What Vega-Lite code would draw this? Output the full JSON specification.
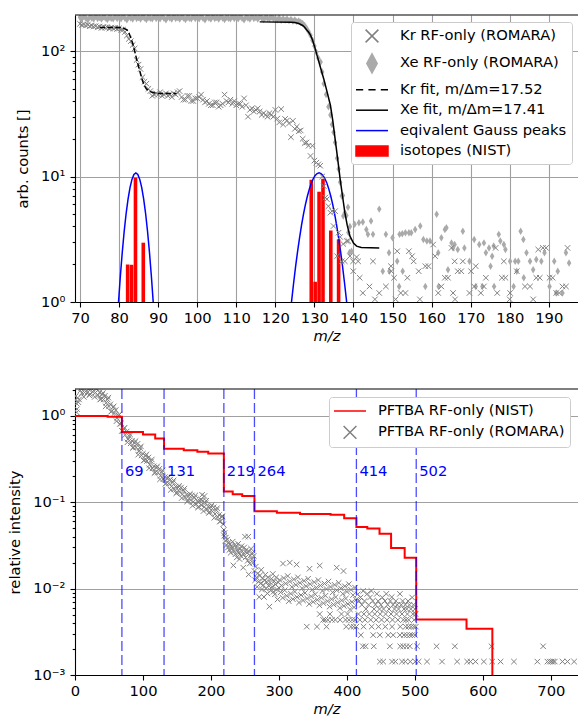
{
"$schema":"https://vega.github.io/schema/vega-lite/v6.json",
"padding":{"left":7,"top":14,"right":0,"bottom":3},
"spacing":37,
"config":{
"font":"DejaVu Sans",
"view":{"stroke":null},
"axis":{"labelFont":"DejaVu Sans","labelFontSize":14.7,"labelColor":"#000","titleFont":"DejaVu Sans","titleFontSize":14.7,"titleFontWeight":"normal","titleColor":"#000","domainColor":"#000","domainWidth":1.1,"tickColor":"#000","tickWidth":1.1,"tickSize":5,"labelPadding":3,"gridColor":"#a0a0a0","gridWidth":1.1,"labelOverlap":false,"labelFlush":false},
"axisY":{"labelPadding":5,"minExtent":42,"maxExtent":42},
"legend":{"labelFont":"DejaVu Sans","labelFontSize":14.7,"labelColor":"#000","labelLimit":400,"symbolStrokeWidth":1.5,"symbolSize":256,"padding":5,"strokeColor":"#cccccc","fillColor":"white","cornerRadius":3,"rowPadding":4.4,"labelOffset":26,"symbolOpacity":1,"symbolLimit":0}
},
"datasets":{
"iso":[{"m":82.2,"v":1.99},{"m":83.2,"v":1.98},{"m":84.2,"v":9.8},{"m":86.2,"v":2.97},{"m":129.2,"v":9.43},{"m":130.2,"v":1.45},{"m":131.2,"v":7.57},{"m":132.2,"v":9.6},{"m":134.2,"v":3.71},{"m":136.2,"v":3.16}],
"gauss":[
{"p":"Kr","m":79.3,"v":0.53},{"p":"Kr","m":79.8,"v":0.94},{"p":"Kr","m":80.3,"v":1.56},{"p":"Kr","m":80.8,"v":2.45},{"p":"Kr","m":81.3,"v":3.63},{"p":"Kr","m":81.8,"v":5.05},{"p":"Kr","m":82.3,"v":6.61},{"p":"Kr","m":82.8,"v":8.17},{"p":"Kr","m":83.3,"v":9.49},{"p":"Kr","m":83.8,"v":10.38},{"p":"Kr","m":84.3,"v":10.7},{"p":"Kr","m":84.8,"v":10.38},{"p":"Kr","m":85.3,"v":9.49},{"p":"Kr","m":85.8,"v":8.17},{"p":"Kr","m":86.3,"v":6.61},{"p":"Kr","m":86.8,"v":5.05},{"p":"Kr","m":87.3,"v":3.63},{"p":"Kr","m":87.8,"v":2.45},{"p":"Kr","m":88.3,"v":1.56},{"p":"Kr","m":88.8,"v":0.94},{"p":"Kr","m":89.3,"v":0.53},
{"p":"Xe","m":123.7,"v":0.73},{"p":"Xe","m":124.2,"v":1.04},{"p":"Xe","m":124.7,"v":1.43},{"p":"Xe","m":125.2,"v":1.93},{"p":"Xe","m":125.7,"v":2.53},{"p":"Xe","m":126.2,"v":3.25},{"p":"Xe","m":126.7,"v":4.08},{"p":"Xe","m":127.2,"v":4.99},{"p":"Xe","m":127.7,"v":5.97},{"p":"Xe","m":128.2,"v":6.97},{"p":"Xe","m":128.7,"v":7.94},{"p":"Xe","m":129.2,"v":8.84},{"p":"Xe","m":129.7,"v":9.61},{"p":"Xe","m":130.2,"v":10.2},{"p":"Xe","m":130.7,"v":10.57},{"p":"Xe","m":131.2,"v":10.7},{"p":"Xe","m":131.7,"v":10.57},{"p":"Xe","m":132.2,"v":10.2},{"p":"Xe","m":132.7,"v":9.61},{"p":"Xe","m":133.2,"v":8.84},{"p":"Xe","m":133.7,"v":7.94},{"p":"Xe","m":134.2,"v":6.97},{"p":"Xe","m":134.7,"v":5.97},{"p":"Xe","m":135.2,"v":4.99},{"p":"Xe","m":135.7,"v":4.08},{"p":"Xe","m":136.2,"v":3.25},{"p":"Xe","m":136.7,"v":2.53},{"p":"Xe","m":137.2,"v":1.93},{"p":"Xe","m":137.7,"v":1.43},{"p":"Xe","m":138.2,"v":1.04},{"p":"Xe","m":138.7,"v":0.73}],
"krfit":[{"m":75,"v":154},{"m":80,"v":154},{"m":81,"v":153},{"m":82,"v":148},{"m":82.5,"v":140},{"m":83,"v":128},{"m":83.5,"v":115},{"m":84,"v":100},{"m":84.5,"v":86},{"m":85,"v":75},{"m":85.5,"v":66},{"m":86,"v":58},{"m":86.5,"v":53},{"m":87,"v":50},{"m":88,"v":47.5},{"m":89,"v":46.5},{"m":90,"v":46},{"m":94.7,"v":46}],
"xefit":[{"m":116,"v":171},{"m":124,"v":170},{"m":125,"v":169},{"m":126,"v":166},{"m":127,"v":160},{"m":127.5,"v":155},{"m":128,"v":148},{"m":128.5,"v":142},{"m":129,"v":134},{"m":129.5,"v":123},{"m":130,"v":110},{"m":130.7,"v":92},{"m":131.5,"v":75},{"m":132.4,"v":60},{"m":133.2,"v":48},{"m":134.1,"v":37},{"m":134.7,"v":28},{"m":135.3,"v":20},{"m":136,"v":13.5},{"m":136.6,"v":9.5},{"m":137.2,"v":7},{"m":137.8,"v":5.15},{"m":138.4,"v":4.1},{"m":139.1,"v":3.35},{"m":140,"v":2.95},{"m":140.8,"v":2.79},{"m":142,"v":2.72},{"m":146.6,"v":2.7}],
"kr":[{"m":70,"v":165},{"m":70.5,"v":162},{"m":71,"v":163},{"m":71.5,"v":160},{"m":72,"v":162},{"m":72.5,"v":158},{"m":73,"v":160},{"m":73.5,"v":157},{"m":74,"v":158},{"m":74.5,"v":155},{"m":75,"v":157},{"m":75.5,"v":153},{"m":76,"v":156},{"m":76.5,"v":154},{"m":77,"v":155},{"m":77.5,"v":151},{"m":78,"v":154},{"m":78.5,"v":152},{"m":79,"v":153},{"m":79.5,"v":150},{"m":80,"v":152},{"m":80.5,"v":148},{"m":81,"v":148},{"m":81.5,"v":142},{"m":82,"v":133},{"m":82.5,"v":125},{"m":83,"v":120},{"m":83.5,"v":112},{"m":84,"v":105},{"m":84.5,"v":85},{"m":85,"v":78},{"m":85.5,"v":72},{"m":86,"v":62},{"m":86.5,"v":57},{"m":87,"v":55},{"m":87.5,"v":50},{"m":88,"v":48},{"m":88.5,"v":44},{"m":89,"v":45},{"m":89.5,"v":46},{"m":90,"v":45},{"m":90.5,"v":47},{"m":91,"v":44},{"m":91.5,"v":45},{"m":92,"v":46},{"m":92.5,"v":44},{"m":93,"v":45},{"m":93.5,"v":43},{"m":94,"v":46},{"m":94.5,"v":45},{"m":95,"v":47},{"m":95.5,"v":48},{"m":96,"v":43},{"m":96.5,"v":41},{"m":97,"v":41},{"m":97.5,"v":44},{"m":98,"v":44},{"m":98.5,"v":40},{"m":99,"v":40},{"m":99.5,"v":42},{"m":100,"v":42},{"m":100.5,"v":43},{"m":101,"v":45},{"m":101.5,"v":41},{"m":102,"v":39},{"m":102.5,"v":40},{"m":103,"v":38},{"m":103.5,"v":37},{"m":104,"v":37},{"m":104.5,"v":39},{"m":105,"v":39},{"m":105.5,"v":36},{"m":106,"v":37},{"m":106.5,"v":38},{"m":107,"v":45},{"m":107.5,"v":40},{"m":108,"v":39},{"m":108.5,"v":41},{"m":109,"v":38},{"m":109.5,"v":40},{"m":110,"v":37},{"m":110.5,"v":38},{"m":111,"v":38},{"m":111.5,"v":36},{"m":112,"v":42},{"m":112.5,"v":37},{"m":113,"v":30},{"m":113.5,"v":34},{"m":114,"v":35},{"m":114.5,"v":33},{"m":115,"v":34},{"m":115.5,"v":35},{"m":116,"v":33},{"m":116.5,"v":31},{"m":117,"v":32},{"m":117.5,"v":31},{"m":118,"v":30},{"m":118.5,"v":32},{"m":119,"v":31},{"m":119.5,"v":30},{"m":120,"v":34},{"m":120.5,"v":29},{"m":121,"v":27},{"m":121.5,"v":34.5},{"m":122,"v":26},{"m":122.5,"v":28.8},{"m":123,"v":28},{"m":123.5,"v":26.5},{"m":124,"v":20.6},{"m":124.5,"v":27.8},{"m":125,"v":24},{"m":125.5,"v":25},{"m":126,"v":23},{"m":126.5,"v":23.3},{"m":127,"v":20},{"m":127.5,"v":18.5},{"m":128,"v":18.7},{"m":128.5,"v":17.6},{"m":129,"v":14.6},{"m":129.5,"v":17.6},{"m":130,"v":13.4},{"m":130.5,"v":12.9},{"m":131,"v":12.5},{"m":131.5,"v":12.2},{"m":132,"v":10},{"m":132.4,"v":8.4},{"m":132.8,"v":6.8},{"m":133.2,"v":6.6},{"m":133.6,"v":5.8},{"m":134.1,"v":5.15},{"m":134.5,"v":5.3},{"m":134.9,"v":4.03},{"m":135.3,"v":5.3},{"m":135.8,"v":2.32},{"m":136.2,"v":3.57},{"m":136.6,"v":3.3},{"m":137,"v":2.11},{"m":137.4,"v":2.9},{"m":137.8,"v":2.11},{"m":138.3,"v":3.06},{"m":138.7,"v":3.06},{"m":139.1,"v":2.32},{"m":139.9,"v":2.11},{"m":139.95,"v":1.76},{"m":140.8,"v":2.28},{"m":141.2,"v":2.11},{"m":141.6,"v":1.56},{"m":142.4,"v":1.18},{"m":144.1,"v":1.33},{"m":145,"v":2.11},{"m":145.5,"v":1.05},{"m":146.6,"v":1.18},{"m":148.3,"v":1.33},{"m":149.6,"v":1.93},{"m":149.7,"v":1.76},{"m":150.4,"v":1.56},{"m":150.8,"v":1.05},{"m":151.2,"v":2.54},{"m":152.1,"v":1.18},{"m":153.3,"v":1.18},{"m":153.8,"v":1.56},{"m":154.2,"v":2.54},{"m":155,"v":2.32},{"m":155.4,"v":2.11},{"m":156.7,"v":1.76},{"m":157,"v":1.05},{"m":158.4,"v":1.93},{"m":159.2,"v":1.93},{"m":160.4,"v":2.87},{"m":160.9,"v":2.32},{"m":161.7,"v":1.18},{"m":162.5,"v":1.33},{"m":163.4,"v":1.56},{"m":164.2,"v":1.56},{"m":165.1,"v":2.7},{"m":165.5,"v":1.18},{"m":165.9,"v":2.11},{"m":166,"v":1.05},{"m":166.7,"v":1.76},{"m":167.6,"v":1.76},{"m":168,"v":2.11},{"m":169.7,"v":1.18},{"m":170.1,"v":1.76},{"m":170.9,"v":1.33},{"m":171.3,"v":1.93},{"m":172.6,"v":1.18},{"m":173.4,"v":1.33},{"m":173.9,"v":1.56},{"m":176.4,"v":2.7},{"m":176.8,"v":1.18},{"m":178,"v":1.56},{"m":178.5,"v":2.11},{"m":178.9,"v":1.56},{"m":180,"v":1.05},{"m":180.1,"v":1.18},{"m":181.8,"v":1.76},{"m":183.9,"v":1.33},{"m":185.2,"v":1.33},{"m":186,"v":1.05},{"m":186.8,"v":1.56},{"m":187.3,"v":2.62},{"m":187.7,"v":1.56},{"m":188.5,"v":2.7},{"m":189.3,"v":2.7},{"m":190.2,"v":1.56},{"m":191,"v":1.56},{"m":191.9,"v":1.18},{"m":192.7,"v":1.18},{"m":193.5,"v":1.33},{"m":194.4,"v":1.33},{"m":194.8,"v":2.7}],
"xe":[{"m":70,"v":186},{"m":70.5,"v":181},{"m":71,"v":189},{"m":71.5,"v":183},{"m":72,"v":178},{"m":72.5,"v":187},{"m":73,"v":184},{"m":73.5,"v":180},{"m":74,"v":190},{"m":74.5,"v":182},{"m":75,"v":185},{"m":75.5,"v":180},{"m":76,"v":188},{"m":76.5,"v":184},{"m":77,"v":179},{"m":77.5,"v":186},{"m":78,"v":183},{"m":78.5,"v":181},{"m":79,"v":189},{"m":79.5,"v":182},{"m":80,"v":186},{"m":80.5,"v":181},{"m":81,"v":189},{"m":81.5,"v":183},{"m":82,"v":178},{"m":82.5,"v":187},{"m":83,"v":184},{"m":83.5,"v":180},{"m":84,"v":190},{"m":84.5,"v":182},{"m":85,"v":185},{"m":85.5,"v":180},{"m":86,"v":188},{"m":86.5,"v":184},{"m":87,"v":179},{"m":87.5,"v":186},{"m":88,"v":183},{"m":88.5,"v":181},{"m":89,"v":189},{"m":89.5,"v":182},{"m":90,"v":186},{"m":90.5,"v":181},{"m":91,"v":189},{"m":91.5,"v":183},{"m":92,"v":178},{"m":92.5,"v":187},{"m":93,"v":184},{"m":93.5,"v":180},{"m":94,"v":190},{"m":94.5,"v":182},{"m":95,"v":185},{"m":95.5,"v":180},{"m":96,"v":188},{"m":96.5,"v":184},{"m":97,"v":179},{"m":97.5,"v":186},{"m":98,"v":183},{"m":98.5,"v":181},{"m":99,"v":189},{"m":99.5,"v":182},{"m":100,"v":186},{"m":100.5,"v":181},{"m":101,"v":189},{"m":101.5,"v":183},{"m":102,"v":178},{"m":102.5,"v":187},{"m":103,"v":184},{"m":103.5,"v":180},{"m":104,"v":190},{"m":104.5,"v":182},{"m":105,"v":185},{"m":105.5,"v":180},{"m":106,"v":188},{"m":106.5,"v":184},{"m":107,"v":179},{"m":107.5,"v":186},{"m":108,"v":183},{"m":108.5,"v":181},{"m":109,"v":189},{"m":109.5,"v":182},{"m":110,"v":186},{"m":110.5,"v":181},{"m":111,"v":189},{"m":111.5,"v":183},{"m":112,"v":178},{"m":112.5,"v":187},{"m":113,"v":184},{"m":113.5,"v":180},{"m":114,"v":190},{"m":114.5,"v":182},{"m":115,"v":185},{"m":115.5,"v":180},{"m":116,"v":188},{"m":116.5,"v":184},{"m":117,"v":179},{"m":117.5,"v":186},{"m":118,"v":183},{"m":118.5,"v":181},{"m":119,"v":187},{"m":119.5,"v":182},{"m":120,"v":182},{"m":120.5,"v":178},{"m":121,"v":184},{"m":121.5,"v":176},{"m":122,"v":181},{"m":122.5,"v":177},{"m":123,"v":180},{"m":123.5,"v":175},{"m":124,"v":179},{"m":124.5,"v":174},{"m":125,"v":177},{"m":125.5,"v":172},{"m":126,"v":174},{"m":126.5,"v":170},{"m":127,"v":166},{"m":127.5,"v":160},{"m":128,"v":152},{"m":128.5,"v":143},{"m":129,"v":134},{"m":129.5,"v":122},{"m":130,"v":110},{"m":130.5,"v":98},{"m":131,"v":88},{"m":131.6,"v":82},{"m":132,"v":68},{"m":132.4,"v":55},{"m":133,"v":45},{"m":133.6,"v":36},{"m":134.1,"v":31},{"m":134.5,"v":26},{"m":134.9,"v":22.5},{"m":135.3,"v":18.7},{"m":135.8,"v":14},{"m":136.2,"v":11.5},{"m":136.6,"v":9},{"m":137,"v":7},{"m":137.3,"v":7.06},{"m":137.4,"v":4.85},{"m":137.8,"v":5.15},{"m":138.2,"v":4.9},{"m":138.6,"v":5.69},{"m":138.7,"v":3.58},{"m":139,"v":2.48},{"m":139.1,"v":4.0},{"m":139.5,"v":2.54},{"m":140.3,"v":4.16},{"m":141.4,"v":4.29},{"m":142.4,"v":4.35},{"m":143.3,"v":3.79},{"m":143.7,"v":3.46},{"m":144.5,"v":4.42},{"m":145,"v":3.46},{"m":146.6,"v":5.5},{"m":147.5,"v":1.76},{"m":148.3,"v":3.46},{"m":149.1,"v":2.47},{"m":149.2,"v":1.76},{"m":150,"v":3.25},{"m":151.2,"v":2.11},{"m":151.7,"v":1.33},{"m":151.8,"v":3.46},{"m":152.5,"v":3.5},{"m":152.6,"v":1.76},{"m":153.3,"v":3.56},{"m":154.2,"v":3.56},{"m":154.8,"v":3.56},{"m":155.8,"v":3.79},{"m":157.1,"v":4.03},{"m":157.9,"v":3.15},{"m":158.4,"v":1.33},{"m":158.8,"v":3.06},{"m":159.6,"v":3.06},{"m":161.3,"v":5.0},{"m":161.7,"v":2.47},{"m":161.8,"v":1.33},{"m":162.5,"v":3.25},{"m":163.4,"v":3.79},{"m":163.8,"v":3.9},{"m":164.2,"v":1.81},{"m":165.1,"v":2.96},{"m":165.5,"v":2.7},{"m":165.9,"v":2.87},{"m":166.7,"v":2.62},{"m":168,"v":3.67},{"m":168.4,"v":2.7},{"m":169.7,"v":2.11},{"m":170.9,"v":3.15},{"m":171.3,"v":1.33},{"m":172.2,"v":2.87},{"m":173,"v":1.33},{"m":173.4,"v":2.96},{"m":173.9,"v":2.47},{"m":174.7,"v":2.7},{"m":175.1,"v":1.93},{"m":175.5,"v":2.32},{"m":175.9,"v":2.79},{"m":176,"v":1.33},{"m":177.2,"v":3.46},{"m":177.6,"v":3.06},{"m":178.5,"v":2.87},{"m":178.9,"v":2.62},{"m":180.1,"v":2.11},{"m":181,"v":1.33},{"m":181.4,"v":2.11},{"m":181.8,"v":1.76},{"m":182.2,"v":2.11},{"m":182.8,"v":3.67},{"m":183.5,"v":3.15},{"m":183.6,"v":1.56},{"m":184.3,"v":2.47},{"m":185.2,"v":2.11},{"m":186,"v":1.81},{"m":186.8,"v":2.18},{"m":188.1,"v":2.11},{"m":188.9,"v":2.47},{"m":190.2,"v":1.33},{"m":191.4,"v":2.11},{"m":191.9,"v":1.18},{"m":192.3,"v":1.76},{"m":193.5,"v":1.18},{"m":194.4,"v":2.47},{"m":195.2,"v":2.05}],
"legTop":[{"s":"Kr RF-only (ROMARA)"},{"s":"Xe RF-only (ROMARA)"},{"s":"Kr fit, m/Δm=17.52"},{"s":"Xe fit, m/Δm=17.41"},{"s":"eqivalent Gauss peaks"},{"s":"isotopes (NIST)"}],
"legBot":[{"s":"PFTBA RF-only (NIST)"},{"s":"PFTBA RF-only (ROMARA)"}],
"nist":[{"m":0,"v":1.0},{"m":48,"v":0.975},{"m":69,"v":0.65},{"m":100,"v":0.61},{"m":118,"v":0.548},{"m":131,"v":0.417},{"m":160,"v":0.4},{"m":180,"v":0.385},{"m":196,"v":0.367},{"m":219,"v":0.133},{"m":232,"v":0.124},{"m":246,"v":0.118},{"m":264,"v":0.0785},{"m":297,"v":0.0757},{"m":331,"v":0.0734},{"m":376,"v":0.0715},{"m":396,"v":0.0655},{"m":414,"v":0.0517},{"m":430,"v":0.0496},{"m":448,"v":0.0432},{"m":465,"v":0.0295},{"m":485,"v":0.0228},{"m":502,"v":0.0044},{"m":576,"v":0.00343},{"m":614,"v":0.0005}],
"lines":[{"m":69},{"m":131},{"m":219},{"m":264},{"m":414},{"m":502}],
"pftba":[{"m":0,"v":1.53},{"m":2,"v":1.4},{"m":4,"v":1.62},{"m":6,"v":1.55},{"m":8,"v":1.97},{"m":10,"v":1.84},{"m":12,"v":2.16},{"m":14,"v":1.87},{"m":16,"v":2.14},{"m":18,"v":1.85},{"m":20,"v":2.04},{"m":22,"v":1.79},{"m":24,"v":2.09},{"m":26,"v":1.9},{"m":28,"v":2.17},{"m":30,"v":1.86},{"m":32,"v":2.07},{"m":34,"v":1.74},{"m":36,"v":1.86},{"m":38,"v":1.57},{"m":40,"v":1.77},{"m":42,"v":1.55},{"m":44,"v":1.71},{"m":46,"v":1.42},{"m":48,"v":1.55},{"m":50,"v":1.29},{"m":52,"v":1.36},{"m":54,"v":1.13},{"m":56,"v":1.26},{"m":58,"v":1.08},{"m":60,"v":1.17},{"m":62,"v":0.946},{"m":64,"v":1.01},{"m":66,"v":0.807},{"m":68,"v":0.822},{"m":70,"v":0.667},{"m":72,"v":0.714},{"m":74,"v":0.603},{"m":76,"v":0.659},{"m":78,"v":0.541},{"m":80,"v":0.583},{"m":82,"v":0.482},{"m":84,"v":0.511},{"m":86,"v":0.434},{"m":88,"v":0.491},{"m":90,"v":0.433},{"m":92,"v":0.475},{"m":94,"v":0.391},{"m":96,"v":0.424},{"m":98,"v":0.349},{"m":100,"v":0.366},{"m":102,"v":0.308},{"m":104,"v":0.345},{"m":106,"v":0.301},{"m":108,"v":0.33},{"m":110,"v":0.272},{"m":112,"v":0.297},{"m":114,"v":0.247},{"m":116,"v":0.261},{"m":118,"v":0.222},{"m":120,"v":0.251},{"m":122,"v":0.221},{"m":124,"v":0.244},{"m":126,"v":0.203},{"m":128,"v":0.222},{"m":130,"v":0.185},{"m":132,"v":0.195},{"m":134,"v":0.166},{"m":136,"v":0.188},{"m":138,"v":0.165},{"m":140,"v":0.183},{"m":142,"v":0.153},{"m":144,"v":0.17},{"m":146,"v":0.142},{"m":148,"v":0.152},{"m":150,"v":0.13},{"m":152,"v":0.149},{"m":154,"v":0.132},{"m":156,"v":0.148},{"m":158,"v":0.124},{"m":160,"v":0.136},{"m":162,"v":0.114},{"m":164,"v":0.122},{"m":166,"v":0.105},{"m":168,"v":0.12},{"m":170,"v":0.106},{"m":172,"v":0.12},{"m":174,"v":0.101},{"m":176,"v":0.113},{"m":178,"v":0.0957},{"m":180,"v":0.103},{"m":182,"v":0.0891},{"m":184,"v":0.103},{"m":186,"v":0.0923},{"m":188,"v":0.104},{"m":190,"v":0.0879},{"m":192,"v":0.0979},{"m":194,"v":0.0828},{"m":196,"v":0.0891},{"m":198,"v":0.0771},{"m":200,"v":0.0883},{"m":202,"v":0.0783},{"m":204,"v":0.0875},{"m":206,"v":0.0733},{"m":208,"v":0.0811},{"m":210,"v":0.0675},{"m":212,"v":0.0713},{"m":214,"v":0.0605},{"m":216,"v":0.0687},{"m":218,"v":0.0556},
{"m":1,"v":1.69},{"m":5,"v":1.44},{"m":9,"v":2.11},{"m":13,"v":1.66},{"m":17,"v":2.3},{"m":21,"v":1.73},{"m":25,"v":2.21},{"m":29,"v":1.66},{"m":33,"v":2.19},{"m":37,"v":1.55},{"m":41,"v":1.84},{"m":45,"v":1.29},{"m":49,"v":1.63},{"m":53,"v":1.12},{"m":57,"v":1.29},{"m":61,"v":0.869},{"m":65,"v":1.04},{"m":69,"v":0.671},{"m":73,"v":0.728},{"m":77,"v":0.494},{"m":81,"v":0.612},{"m":85,"v":0.427},{"m":89,"v":0.511},{"m":93,"v":0.356},{"m":97,"v":0.444},{"m":101,"v":0.304},{"m":105,"v":0.358},{"m":109,"v":0.248},{"m":113,"v":0.313},{"m":117,"v":0.218},{"m":121,"v":0.261},{"m":125,"v":0.184},{"m":129,"v":0.234},{"m":133,"v":0.163},{"m":137,"v":0.195},{"m":141,"v":0.139},{"m":145,"v":0.179},{"m":149,"v":0.127},{"m":153,"v":0.155},{"m":157,"v":0.112},{"m":161,"v":0.144},{"m":165,"v":0.102},{"m":169,"v":0.125},{"m":173,"v":0.0912},{"m":177,"v":0.12},{"m":181,"v":0.0869},{"m":185,"v":0.108},{"m":189,"v":0.0791},{"m":193,"v":0.104},{"m":197,"v":0.0752},{"m":201,"v":0.0923},{"m":205,"v":0.0662},{"m":209,"v":0.0854},{"m":213,"v":0.0596},{"m":217,"v":0.0686},{"m":187,"v":0.122},{"m":190.5,"v":0.118},{"m":3,"v":1.2},{"m":2.5,"v":1.1},
{"m":219,"v":0.048},{"m":219.5,"v":0.041},{"m":220,"v":0.044},{"m":221,"v":0.036},{"m":222,"v":0.039},{"m":223,"v":0.032},{"m":224,"v":0.037},{"m":225,"v":0.03},{"m":226,"v":0.034},{"m":227,"v":0.028},{"m":228,"v":0.033},{"m":229,"v":0.026},{"m":230,"v":0.031},{"m":231,"v":0.029},{"m":232,"v":0.035},{"m":233,"v":0.0186},{"m":234,"v":0.027},{"m":235,"v":0.032},{"m":236,"v":0.025},{"m":237,"v":0.03},{"m":238,"v":0.023},{"m":239,"v":0.028},{"m":240,"v":0.033},{"m":241,"v":0.026},{"m":242,"v":0.022},{"m":243,"v":0.029},{"m":244,"v":0.024},{"m":245,"v":0.031},{"m":246,"v":0.027},{"m":247.5,"v":0.0175},{"m":248,"v":0.025},{"m":249,"v":0.03},{"m":250,"v":0.04},{"m":251,"v":0.023},{"m":252,"v":0.028},{"m":253,"v":0.026},{"m":254,"v":0.021},{"m":255,"v":0.04},{"m":255.5,"v":0.0146},{"m":256,"v":0.027},{"m":257,"v":0.0195},{"m":258,"v":0.024},{"m":259,"v":0.029},{"m":260,"v":0.022},{"m":261,"v":0.026},{"m":262,"v":0.02},{"m":263,"v":0.024},
{"m":264,"v":0.016},{"m":265,"v":0.0125},{"m":266,"v":0.018},{"m":267,"v":0.0135},{"m":268,"v":0.0105},{"m":269,"v":0.015},{"m":270,"v":0.012},{"m":271,"v":0.008},{"m":272,"v":0.0142},{"m":273,"v":0.0115},{"m":274,"v":0.0165},{"m":275,"v":0.0098},{"m":276,"v":0.013},{"m":277,"v":0.011},{"m":278,"v":0.008},{"m":279,"v":0.0125},{"m":280,"v":0.0145},{"m":281,"v":0.01},{"m":282,"v":0.012},{"m":283,"v":0.0088},{"m":284,"v":0.0135},{"m":285,"v":0.0108},{"m":286,"v":0.0062},{"m":287,"v":0.0118},{"m":288,"v":0.0095},{"m":289,"v":0.013},{"m":290,"v":0.0105},{"m":291,"v":0.0148},{"m":292,"v":0.0092},{"m":293,"v":0.0122},{"m":294,"v":0.0086},{"m":295,"v":0.0112},{"m":296,"v":0.0135},{"m":297,"v":0.0098},{"m":298,"v":0.0075},{"m":299,"v":0.0118},{"m":300,"v":0.0102},
{"m":301,"v":0.0126},{"m":302.5,"v":0.00906},{"m":304,"v":0.01086},{"m":305.5,"v":0.00783},{"m":307,"v":0.01327},{"m":308.5,"v":0.00957},{"m":310,"v":0.01146},{"m":311.5,"v":0.00828},{"m":313,"v":0.014},{"m":314.5,"v":0.00716},{"m":316,"v":0.0121},{"m":317.5,"v":0.00875},{"m":319,"v":0.01047},{"m":320.5,"v":0.00755},{"m":322,"v":0.0128},{"m":323.5,"v":0.00923},{"m":325,"v":0.01107},{"m":326.5,"v":0.00798},{"m":328,"v":0.01352},{"m":329.5,"v":0.0069},{"m":331,"v":0.01167},{"m":332.5,"v":0.00843},{"m":334,"v":0.01009},{"m":335.5,"v":0.0073},{"m":337,"v":0.01233},{"m":338.5,"v":0.00891},{"m":340,"v":0.01067},{"m":341.5,"v":0.00769},{"m":343,"v":0.01303},{"m":344.5,"v":0.00665},{"m":346,"v":0.01127},{"m":347.5,"v":0.00813},{"m":349,"v":0.00973},{"m":350.5,"v":0.00703},{"m":352,"v":0.01189},{"m":353.5,"v":0.00859},{"m":355,"v":0.01028},{"m":356.5,"v":0.00743},{"m":358,"v":0.01256},{"m":359.5,"v":0.00641},{"m":361,"v":0.01086},{"m":362.5,"v":0.00783},{"m":364,"v":0.0094},{"m":365.5,"v":0.00678},{"m":367,"v":0.01146},{"m":368.5,"v":0.00828},{"m":370,"v":0.00991},{"m":371.5,"v":0.00716},{"m":373,"v":0.0121},{"m":374.5,"v":0.00619},{"m":376,"v":0.01047},{"m":377.5,"v":0.00755},{"m":379,"v":0.00906},{"m":380.5,"v":0.00653},{"m":382,"v":0.01107},{"m":383.5,"v":0.00798},{"m":385,"v":0.00957},{"m":386.5,"v":0.0069},{"m":388,"v":0.01167},{"m":389.5,"v":0.00597},{"m":391,"v":0.01009},{"m":392.5,"v":0.0073},{"m":394,"v":0.00873},{"m":395.5,"v":0.0063},{"m":397,"v":0.01067},{"m":398.5,"v":0.00769},{"m":400,"v":0.00923},{"m":401.5,"v":0.00665},{"m":403,"v":0.01127},{"m":404.5,"v":0.00575},{"m":406,"v":0.00973},{"m":407.5,"v":0.00703},{"m":409,"v":0.00841},{"m":410.5,"v":0.00608},{"m":412,"v":0.01028},{"m":413.5,"v":0.00743},
{"m":306,"v":0.0195},{"m":316,"v":0.02},{"m":326,"v":0.019},{"m":345,"v":0.017},{"m":360,"v":0.0185},{"m":385,"v":0.0175},{"m":395,"v":0.016},
{"m":360,"v":0.00508},{"m":375,"v":0.00508},{"m":392,"v":0.00508},{"m":401,"v":0.00508},{"m":365,"v":0.00435},{"m":368,"v":0.00435},{"m":372,"v":0.00435},{"m":378,"v":0.00435},{"m":383,"v":0.00435},{"m":390,"v":0.00435},{"m":398,"v":0.00435},{"m":403,"v":0.00435},{"m":408,"v":0.00435},{"m":412,"v":0.00435},{"m":341,"v":0.00363},{"m":356,"v":0.00363},{"m":370,"v":0.00363},{"m":399,"v":0.00363},{"m":406,"v":0.00363},{"m":410,"v":0.00363},{"m":414,"v":0.00363},
{"m":416,"v":0.0086},{"m":418,"v":0.0072},{"m":420,"v":0.0079},{"m":422,"v":0.0065},{"m":424,"v":0.0094},{"m":426,"v":0.0072},{"m":428,"v":0.0058},{"m":430,"v":0.0087},{"m":432,"v":0.0065},{"m":434,"v":0.0079},{"m":436,"v":0.0094},{"m":438,"v":0.0072},{"m":440,"v":0.0058},{"m":442,"v":0.0065},{"m":444,"v":0.0087},{"m":446,"v":0.0072},{"m":448,"v":0.0058},{"m":450,"v":0.0065},{"m":452,"v":0.0079},{"m":454,"v":0.0058},{"m":456,"v":0.0072},{"m":458,"v":0.0087},{"m":460,"v":0.0065},{"m":462,"v":0.0058},{"m":464,"v":0.0072},{"m":466,"v":0.008},{"m":468,"v":0.0065},{"m":470,"v":0.0058},{"m":472,"v":0.0072},{"m":474,"v":0.0065},{"m":476,"v":0.0058},{"m":478,"v":0.0087},{"m":480,"v":0.0065},{"m":482,"v":0.0072},{"m":484,"v":0.0058},{"m":486,"v":0.0065},{"m":488,"v":0.0058},{"m":490,"v":0.0072},{"m":492,"v":0.0065},{"m":494,"v":0.0058},{"m":496,"v":0.0079},{"m":498,"v":0.0065},{"m":500,"v":0.0058},
{"m":417,"v":0.00508},{"m":425,"v":0.00508},{"m":433,"v":0.00508},{"m":441,"v":0.00508},{"m":449,"v":0.00508},{"m":457,"v":0.00508},{"m":465,"v":0.00508},{"m":473,"v":0.00508},{"m":481,"v":0.00508},{"m":489,"v":0.00508},{"m":497,"v":0.00508},{"m":501,"v":0.00508},
{"m":419,"v":0.00435},{"m":426.5,"v":0.00435},{"m":435,"v":0.00435},{"m":443,"v":0.00435},{"m":451,"v":0.00435},{"m":459,"v":0.00435},{"m":467,"v":0.00435},{"m":475,"v":0.00435},{"m":483,"v":0.00435},{"m":487,"v":0.00435},{"m":491,"v":0.00435},{"m":499,"v":0.00435},
{"m":424.5,"v":0.00363},{"m":436.5,"v":0.00363},{"m":446.5,"v":0.00363},{"m":456.5,"v":0.00363},{"m":466.5,"v":0.00363},{"m":478.5,"v":0.00363},{"m":486.5,"v":0.00363},{"m":490.5,"v":0.00363},{"m":494.5,"v":0.00363},{"m":498.5,"v":0.00363},{"m":501.5,"v":0.00363},
{"m":420.5,"v":0.0029},{"m":438.7,"v":0.0029},{"m":448.5,"v":0.0029},{"m":460.8,"v":0.0029},{"m":468.1,"v":0.0029},{"m":478,"v":0.0029},{"m":484,"v":0.0029},{"m":488,"v":0.0029},{"m":492.6,"v":0.0029},{"m":496,"v":0.0029},{"m":500,"v":0.0029},
{"m":423.5,"v":0.00215},{"m":427.5,"v":0.00215},{"m":439.5,"v":0.00215},{"m":463.2,"v":0.00215},{"m":478.5,"v":0.00215},{"m":482.8,"v":0.00215},{"m":487.7,"v":0.00215},{"m":492.6,"v":0.00215},{"m":503.3,"v":0.00215},{"m":531.9,"v":0.00215},{"m":558.8,"v":0.00215},{"m":612.7,"v":0.00215},{"m":688.7,"v":0.00215},
{"m":448.5,"v":0.00143},{"m":453.4,"v":0.00143},{"m":466.4,"v":0.00143},{"m":471.3,"v":0.00143},{"m":481.1,"v":0.00143},{"m":486,"v":0.00143},{"m":493.3,"v":0.00143},{"m":500.7,"v":0.00143},{"m":505.6,"v":0.00143},{"m":517.9,"v":0.00143},{"m":540,"v":0.00143},{"m":562.2,"v":0.00143},{"m":576.9,"v":0.00143},{"m":581.8,"v":0.00143},{"m":589.2,"v":0.00143},{"m":601.5,"v":0.00143},{"m":613.8,"v":0.00143},{"m":626.1,"v":0.00143},{"m":645.8,"v":0.00143},{"m":680.2,"v":0.00143},{"m":695,"v":0.00143},{"m":698.5,"v":0.00143},{"m":701,"v":0.00143},{"m":703.4,"v":0.00143},{"m":705.9,"v":0.00143},{"m":717.1,"v":0.00143},{"m":724.5,"v":0.00143},{"m":734.3,"v":0.00143}]
},
"vconcat":[
{"width":503,"height":287,
"layer":[
{"data":{"name":"iso"},"mark":{"type":"bar","color":"#ff0000","width":3.6,"clip":true},
"encoding":{
"x":{"field":"m","type":"quantitative","scale":{"domain":[70,196.2],"nice":false,"zero":false},"axis":{"values":[70,80,90,100,110,120,130,140,150,160,170,180,190],"grid":true,"title":"m/z","titleFontStyle":"italic","titlePadding":4}},
"y":{"field":"v","type":"quantitative","scale":{"type":"log","domain":[1,194],"nice":false},"axis":{"values":[1,2,3,4,5,6,7,8,9,10,20,30,40,50,60,70,80,90,100],"labelExpr":"datum.value==1?'10⁰':datum.value==10?'10¹':datum.value==100?'10²':''","tickSize":{"condition":{"test":"datum.value==1||datum.value==10||datum.value==100","value":5},"value":2.8},"gridOpacity":{"condition":{"test":"datum.value==1||datum.value==10||datum.value==100","value":1},"value":0},"grid":true,"title":"arb. counts []","titlePadding":3}},
"y2":{"datum":1}}},
{"data":{"name":"gauss"},"mark":{"type":"line","color":"#0000ff","strokeWidth":1.5,"clip":true},"encoding":{"x":{"field":"m","type":"quantitative"},"y":{"field":"v","type":"quantitative"},"detail":{"field":"p"}}},
{"data":{"name":"xe"},"mark":{"type":"point","shape":"M0,-1L0.6,0L0,1L-0.6,0Z","filled":true,"color":"#aaaaaa","size":56,"opacity":1,"strokeWidth":0,"clip":true},"encoding":{"x":{"field":"m","type":"quantitative"},"y":{"field":"v","type":"quantitative"}}},
{"data":{"name":"kr"},"mark":{"type":"point","shape":"M-1,-1L1,1M1,-1L-1,1","filled":false,"color":"#808080","size":30,"strokeWidth":1,"opacity":1,"clip":true},"encoding":{"x":{"field":"m","type":"quantitative"},"y":{"field":"v","type":"quantitative"}}},
{"data":{"name":"krfit"},"mark":{"type":"line","color":"#000000","strokeWidth":1.5,"strokeDash":[5.5,2.4]},"encoding":{"x":{"field":"m","type":"quantitative"},"y":{"field":"v","type":"quantitative"}}},
{"data":{"name":"xefit"},"mark":{"type":"line","color":"#000000","strokeWidth":1.5},"encoding":{"x":{"field":"m","type":"quantitative"},"y":{"field":"v","type":"quantitative"}}},
{"data":{"values":[{}]},"mark":{"type":"rule","color":"#000000","strokeWidth":1.1},"encoding":{"y":{"datum":194,"type":"quantitative"}}},
{"data":{"name":"legTop"},"mark":{"type":"point","filled":true,"size":256,"strokeWidth":1.5,"opacity":1,"clip":true},
"encoding":{"x":{"datum":0,"type":"quantitative"},"y":{"datum":1000,"type":"quantitative"},
"shape":{"field":"s","type":"nominal","scale":{"domain":["Kr RF-only (ROMARA)","Xe RF-only (ROMARA)","Kr fit, m/Δm=17.52","Xe fit, m/Δm=17.41","eqivalent Gauss peaks","isotopes (NIST)"],"range":["M0.075,-0.8L1.675,0.8M1.675,-0.8L0.075,0.8","M0.875,-1.2L1.525,0L0.875,1.2L0.225,0Z","M-1.125,0L-0.225,0M0.425,0L1.325,0M1.975,0L2.875,0","M-1.125,0L2.875,0","M-1.125,0L2.875,0","M-1.125,-0.62L2.875,-0.62L2.875,0.62L-1.125,0.62Z"]},"legend":{"orient":"none","legendX":276,"legendY":7,"title":null}},
"fill":{"field":"s","type":"nominal","scale":{"domain":["Kr RF-only (ROMARA)","Xe RF-only (ROMARA)","Kr fit, m/Δm=17.52","Xe fit, m/Δm=17.41","eqivalent Gauss peaks","isotopes (NIST)"],"range":["transparent","#aaaaaa","transparent","transparent","transparent","#ff0000"]},"legend":{"orient":"none","legendX":276,"legendY":7,"title":null}},
"stroke":{"field":"s","type":"nominal","scale":{"domain":["Kr RF-only (ROMARA)","Xe RF-only (ROMARA)","Kr fit, m/Δm=17.52","Xe fit, m/Δm=17.41","eqivalent Gauss peaks","isotopes (NIST)"],"range":["#808080","#aaaaaa","#000000","#000000","#0000ff","#ff0000"]},"legend":{"orient":"none","legendX":276,"legendY":7,"title":null}}}}
]},
{"width":503,"height":286,
"layer":[
{"data":{"name":"pftba"},"mark":{"type":"point","shape":"M-1,-1L1,1M1,-1L-1,1","filled":false,"color":"#808080","size":30,"strokeWidth":1,"opacity":1,"clip":true},
"encoding":{
"x":{"field":"m","type":"quantitative","scale":{"domain":[0,740],"nice":false,"zero":false},"axis":{"values":[0,100,200,300,400,500,600,700],"grid":false,"title":"m/z","titleFontStyle":"italic","titlePadding":4}},
"y":{"field":"v","type":"quantitative","scale":{"type":"log","domain":[0.001,2.05],"nice":false},"axis":{"values":[0.001,0.002,0.003,0.004,0.005,0.006,0.007,0.008,0.009,0.01,0.02,0.03,0.04,0.05,0.06,0.07,0.08,0.09,0.1,0.2,0.3,0.4,0.5,0.6,0.7,0.8,0.9,1,2],"labelExpr":"datum.value==0.001?'10⁻³':datum.value==0.01?'10⁻²':datum.value==0.1?'10⁻¹':datum.value==1?'10⁰':''","tickSize":{"condition":{"test":"datum.value==0.001||datum.value==0.01||datum.value==0.1||datum.value==1","value":5},"value":2.8},"gridOpacity":{"condition":{"test":"datum.value==0.001||datum.value==0.01||datum.value==0.1||datum.value==1","value":1},"value":0},"grid":true,"title":"relative intensity","titlePadding":11}}}},
{"data":{"name":"nist"},"mark":{"type":"line","interpolate":"step-after","color":"#ff0000","strokeWidth":2,"clip":true},"encoding":{"x":{"field":"m","type":"quantitative"},"y":{"field":"v","type":"quantitative"}}},
{"data":{"name":"lines"},"mark":{"type":"rule","color":"#0000ff","strokeDash":[10,4],"strokeWidth":1.3,"opacity":0.7},"encoding":{"x":{"field":"m","type":"quantitative"}}},
{"data":{"name":"lines"},"mark":{"type":"text","color":"#0000ff","fontSize":14.7,"font":"DejaVu Sans","align":"left","baseline":"middle","dx":3},"encoding":{"x":{"field":"m","type":"quantitative"},"y":{"datum":0.224,"type":"quantitative"},"text":{"field":"m","type":"quantitative","format":"d"}}},
{"data":{"values":[{}]},"mark":{"type":"rule","color":"#000000","strokeWidth":1.1},"encoding":{"y":{"datum":2.05,"type":"quantitative"}}},
{"data":{"name":"legBot"},"mark":{"type":"point","filled":true,"size":256,"strokeWidth":1.5,"opacity":1,"clip":true},
"encoding":{"x":{"datum":-1000,"type":"quantitative"},"y":{"datum":100,"type":"quantitative"},
"shape":{"field":"s","type":"nominal","scale":{"domain":["PFTBA RF-only (NIST)","PFTBA RF-only (ROMARA)"],"range":["M-1.125,0L2.875,0","M0.075,-0.8L1.675,0.8M1.675,-0.8L0.075,0.8"]},"legend":{"orient":"none","legendX":254,"legendY":8,"title":null}},
"fill":{"field":"s","type":"nominal","scale":{"domain":["PFTBA RF-only (NIST)","PFTBA RF-only (ROMARA)"],"range":["transparent","transparent"]},"legend":{"orient":"none","legendX":254,"legendY":8,"title":null}},
"stroke":{"field":"s","type":"nominal","scale":{"domain":["PFTBA RF-only (NIST)","PFTBA RF-only (ROMARA)"],"range":["#ff0000","#808080"]},"legend":{"orient":"none","legendX":254,"legendY":8,"title":null}}}}
]}
],
"resolve":{"scale":{"x":"independent","y":"independent","shape":"independent","fill":"independent","stroke":"independent"}}
}
